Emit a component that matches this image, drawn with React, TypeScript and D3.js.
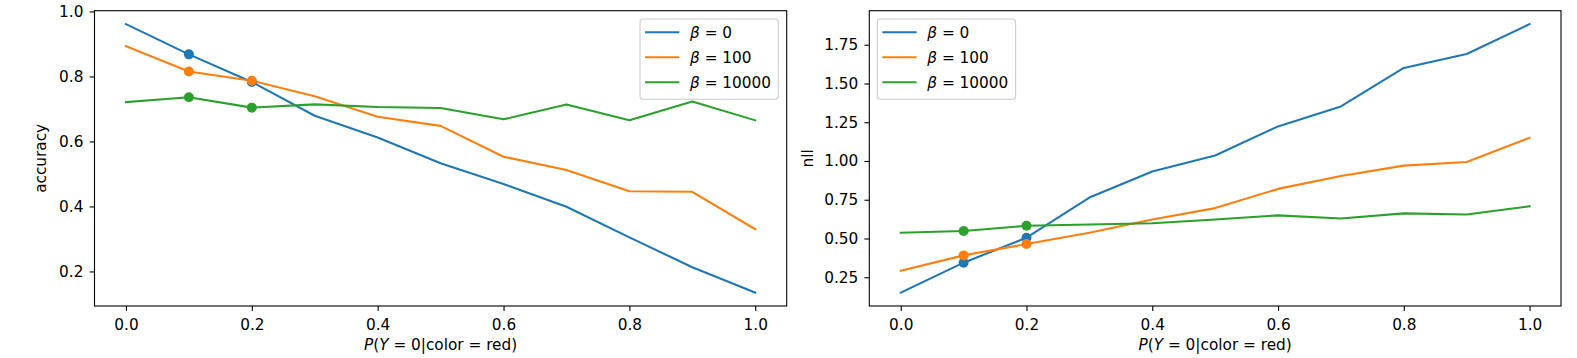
import React, { useEffect, useRef } from 'react';
import * as d3 from 'd3';

const probs = [0.0, 0.1, 0.2, 0.3, 0.4, 0.5, 0.6, 0.7, 0.8, 0.9, 1.0];
const betas = ['0', '100', '10000'];
const colors = ['#1f77b4', '#ff7f0e', '#2ca02c'];

// accuracy, one list per beta
const accBeta0 = [0.961, 0.868, 0.783, 0.679, 0.612, 0.533, 0.469, 0.399, 0.305, 0.213, 0.135];
const accBeta100 = [0.893, 0.815, 0.787, 0.739, 0.676, 0.648, 0.553, 0.512, 0.447, 0.445, 0.330];
const accBeta10000 = [0.721, 0.736, 0.704, 0.714, 0.706, 0.703, 0.668, 0.714, 0.665, 0.723, 0.665];

// nll, one list per beta
const nllBeta0 = [0.151, 0.344, 0.505, 0.764, 0.932, 1.035, 1.223, 1.352, 1.600, 1.690, 1.883];
const nllBeta100 = [0.292, 0.391, 0.464, 0.537, 0.622, 0.696, 0.820, 0.903, 0.970, 0.993, 1.150];
const nllBeta10000 = [0.537, 0.548, 0.582, 0.590, 0.598, 0.623, 0.649, 0.629, 0.662, 0.655, 0.708];

const markedProbs = [0.1, 0.2]; // points drawn with a dot

const xTicks = [0.0, 0.2, 0.4, 0.6, 0.8, 1.0];
const accTicks = [0.2, 0.4, 0.6, 0.8, 1.0];
const nllTicks = [0.25, 0.5, 0.75, 1.0, 1.25, 1.5, 1.75];

const FONT = 'DejaVu Sans, sans-serif';
const FS = 15.3;

type Panel = {
  left: number;
  right: number;
  series: number[][];
  yTicks: number[];
  yFmt: string;
  yLabel: string;
  yLabelX: number;
  legendLeft: boolean;
};

// mathtext-ish label: italic pieces where needed
function mathText(t: d3.Selection<SVGTextElement, unknown, null, undefined>, parts: [string, boolean][]) {
  parts.forEach(([s, it]) => {
    const span = t.append('tspan').text(s);
    if (it) span.attr('font-style', 'italic');
  });
}

function drawPanel(svg: d3.Selection<SVGSVGElement, unknown, null, undefined>, p: Panel) {
  const top = 10.7;
  const bottom = 306;
  const x = d3.scaleLinear().domain([-0.05, 1.05]).range([p.left, p.right]);
  const all = p.series.flat();
  const lo = d3.min(all) as number;
  const hi = d3.max(all) as number;
  const pad = (hi - lo) * 0.05;
  const y = d3.scaleLinear().domain([lo - pad, hi + pad]).range([bottom, top]);

  const g = svg.append('g');

  // 线条
  const line = d3.line<number>()
    .x((d, i) => x(probs[i]))
    .y((d) => y(d));
  p.series.forEach((s, k) => {
    g.append('path')
      .attr('d', line(s))
      .attr('fill', 'none')
      .attr('stroke', colors[k])
      .attr('stroke-width', 2.08)
      .attr('stroke-linejoin', 'round')
      .attr('stroke-linecap', 'square');
  });
  // 标记点
  p.series.forEach((s, k) => {
    markedProbs.forEach((m) => {
      const i = probs.indexOf(m);
      g.append('circle')
        .attr('cx', x(probs[i]))
        .attr('cy', y(s[i]))
        .attr('r', 5)
        .attr('fill', colors[k]);
    });
  });

  // 坐标轴
  const xAxis = g.append('g')
    .attr('transform', `translate(0,${bottom})`)
    .call(d3.axisBottom(x).tickValues(xTicks).tickFormat(d3.format('.1f')).tickSize(4.9).tickPadding(4.9).tickSizeOuter(0));
  xAxis.selectAll('text').attr('y', 24).attr('dy', null);
  const yAxis = g.append('g')
    .attr('transform', `translate(${p.left},0)`)
    .call(d3.axisLeft(y).tickValues(p.yTicks).tickFormat(d3.format(p.yFmt)).tickSize(4.9).tickPadding(6.2).tickSizeOuter(0));
  [xAxis, yAxis].forEach((a) => {
    a.select('.domain').remove();
    a.selectAll('line').attr('stroke', '#000').attr('stroke-width', 1.1);
    a.selectAll('text').attr('font-family', FONT).attr('font-size', FS).attr('fill', '#000');
  });

  g.append('rect')
    .attr('x', p.left)
    .attr('y', top)
    .attr('width', p.right - p.left)
    .attr('height', bottom - top)
    .attr('fill', 'none')
    .attr('stroke', '#000')
    .attr('stroke-width', 1.1);

  // 轴标题
  g.append('text')
    .attr('transform', `translate(${p.yLabelX},${(top + bottom) / 2}) rotate(-90)`)
    .attr('text-anchor', 'middle')
    .attr('font-family', FONT)
    .attr('font-size', FS)
    .text(p.yLabel);

  const xl = g.append('text')
    .attr('x', (p.left + p.right) / 2)
    .attr('y', 350)
    .attr('text-anchor', 'middle')
    .attr('font-family', FONT)
    .attr('font-size', FS);
  mathText(xl, [['P', true], ['(', false], ['Y', true], [' = 0|color = red)', false]]);

  // 图例
  const lw = 138.3;
  const lx = p.legendLeft ? p.left + 8 : p.right - 8.4 - lw;
  const leg = g.append('g').attr('transform', `translate(${lx},19)`);
  leg.append('rect')
    .attr('width', lw)
    .attr('height', 80.3)
    .attr('rx', 3)
    .attr('fill', '#fff')
    .attr('fill-opacity', 0.8)
    .attr('stroke', '#cccccc')
    .attr('stroke-width', 1.1);
  betas.forEach((b, k) => {
    const yy = 13.3 + k * 25;
    leg.append('line')
      .attr('x1', 5).attr('x2', 39.3)
      .attr('y1', yy).attr('y2', yy)
      .attr('stroke', colors[k])
      .attr('stroke-width', 2.08);
    const t = leg.append('text')
      .attr('x', 50)
      .attr('y', yy + 5.5)
      .attr('font-family', FONT)
      .attr('font-size', FS);
    mathText(t, [['β', true], [` = ${b}`, false]]);
  });
}

export default function App() {
  const ref = useRef<SVGSVGElement>(null);
  useEffect(() => {
    const svg = d3.select(ref.current as SVGSVGElement);
    svg.selectAll('*').remove();
    drawPanel(svg, {
      left: 94.5, right: 786.7,
      series: [accBeta0, accBeta100, accBeta10000],
      yTicks: accTicks, yFmt: '.1f', yLabel: 'accuracy', yLabelX: 45.5, legendLeft: false,
    });
    drawPanel(svg, {
      left: 869.3, right: 1561,
      series: [nllBeta0, nllBeta100, nllBeta10000],
      yTicks: nllTicks, yFmt: '.2f', yLabel: 'nll', yLabelX: 813, legendLeft: true,
    });
  }, []);
  return (
    <svg ref={ref} width={1577} height={358} style={{ position: 'absolute', left: 0, top: 0, background: '#fff' }} />
  );
}
